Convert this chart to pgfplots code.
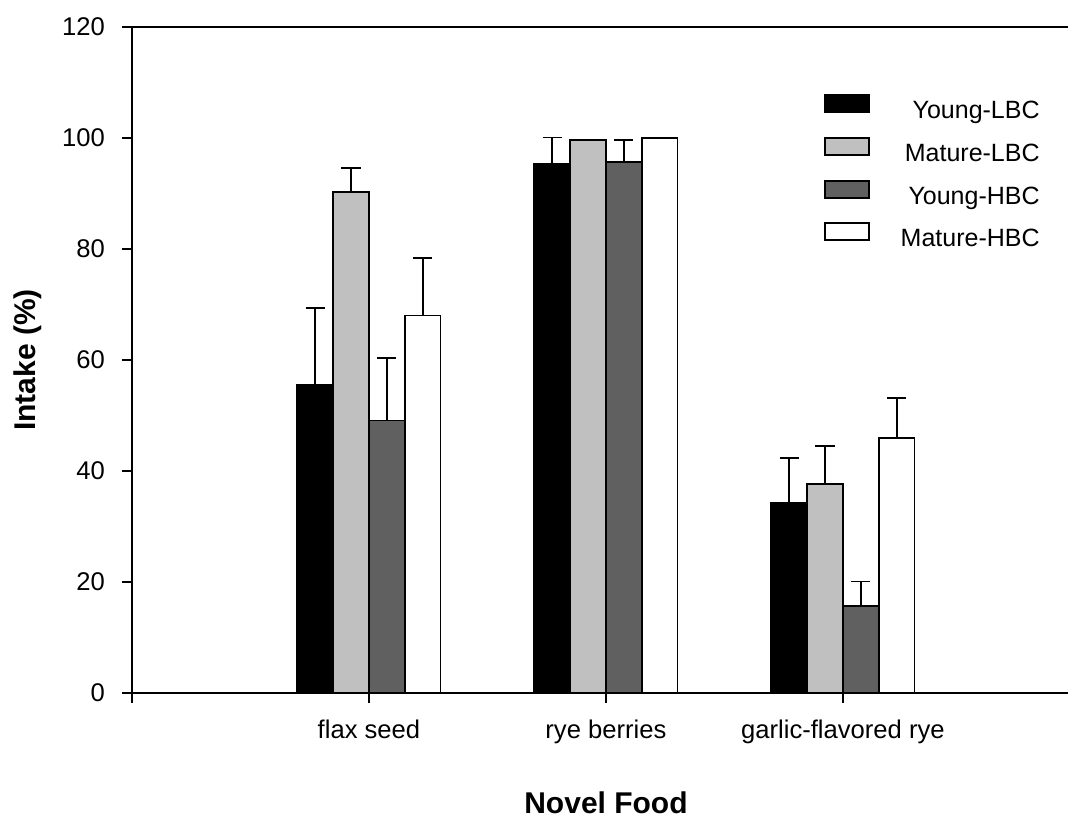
\documentclass[border=0pt]{standalone}
\usepackage{fontspec}
\setmainfont{Liberation Sans}
\usepackage{pgfplots}
\pgfplotsset{compat=1.18}
\definecolor{ltgray}{HTML}{C0C0C0}
\definecolor{dkgray}{HTML}{606060}
\begin{document}
\begin{tikzpicture}
\begin{axis}[
  at={(66pt,63pt)}, anchor=south west,
  scale only axis, width=468pt, height=333pt,
  xmin=0, xmax=3.95, ymin=0, ymax=120,
  clip=false,
  axis x line*=box, axis y line*=left,
  xtick pos=bottom, ytick pos=left,
  axis line style={line width=0.9pt, black},
  ybar=0pt, bar width=17.9pt,
  xtick={0,1,2,3}, xticklabels={,flax seed,rye berries,garlic-flavored rye},
  ytick={0,20,...,120},
  tick align=outside, major tick length=5pt,
  tick style={line width=0.9pt, black},
  ticklabel style={font=\fontsize{12.8}{15}\selectfont},
  /pgf/number format/assume math mode=true,
  xticklabel style={yshift=-5pt},
  yticklabel style={xshift=-5pt},
  xlabel={Novel Food}, ylabel={Intake (\%)},
  label style={font=\bfseries\fontsize{15}{18}\selectfont},
  xlabel style={at={(rel axis cs:0.5064,-0.1802)}, anchor=base},
  ylabel style={at={(rel axis cs:-0.1026,0.5)}, anchor=base},
  error bars/y dir=plus, error bars/y explicit,
  error bars/error bar style={line width=0.9pt, black},
  error bars/error mark options={rotate=90, mark size=4.8pt, line width=0.9pt, black},
  legend image code/.code={\draw[#1, line width=0.9pt] (0pt,0.2pt) rectangle (22pt,8.7pt);},
  legend cell align=right,
  legend style={at={(rel axis cs:0.9701,0.8994)}, anchor=north east, draw=none, fill=none,
    inner sep=0pt, row sep=6.2pt, column sep=15.5pt,
    font=\fontsize{12.5}{15}\selectfont,
    nodes={inner sep=0pt, text height=9pt, text depth=3pt}},
]
\addplot[fill=black, draw=black, line width=0.9pt] coordinates {
  (1,55.5) +- (0,13.9)
  (2,95.4) +- (0,4.7)
  (3,34.3) +- (0,8.0)
};
\addlegendentry{Young-LBC}
\addplot[fill=ltgray, draw=black, line width=0.9pt] coordinates {
  (1,90.3) +- (0,4.3)
  (2,99.6) +- (0,0)
  (3,37.7) +- (0,6.8)
};
\addlegendentry{Mature-LBC}
\addplot[fill=dkgray, draw=black, line width=0.9pt] coordinates {
  (1,49.1) +- (0,11.3)
  (2,95.7) +- (0,3.9)
  (3,15.7) +- (0,4.4)
};
\addlegendentry{Young-HBC}
\addplot[fill=white, draw=black, line width=0.9pt] coordinates {
  (1,68.0) +- (0,10.4)
  (2,100.0) +- (0,0)
  (3,46.0) +- (0,7.2)
};
\addlegendentry{Mature-HBC}
\end{axis}
\pgfresetboundingbox
\path (0,0) rectangle (534pt,409.5pt);
\end{tikzpicture}
\end{document}
